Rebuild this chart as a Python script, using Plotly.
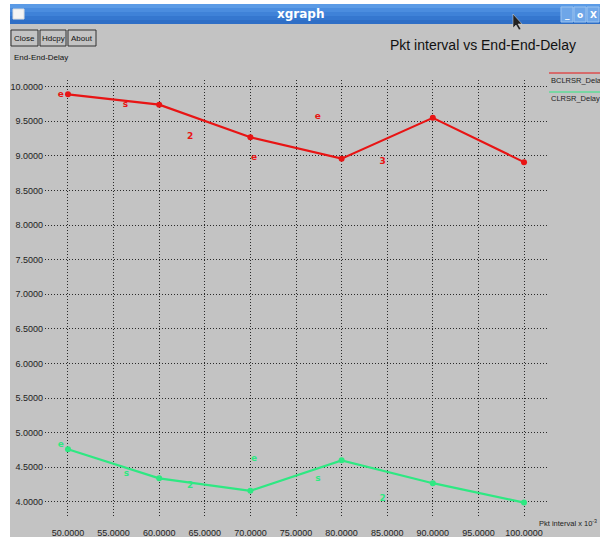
import plotly.graph_objects as go

# ---- data ----
pkt_interval = [50, 60, 70, 80, 90, 100]
bclrsr_delay = [9.89, 9.74, 9.27, 8.96, 9.55, 8.91]
clrsr_delay = [4.76, 4.34, 4.16, 4.60, 4.27, 3.99]

# stray point glyphs drawn by xgraph
red_glyph_x = [49.2, 56.3, 63.4, 70.4, 77.4, 84.5]
red_glyph_y = [9.89, 9.74, 9.28, 8.98, 9.57, 8.92]
red_glyph_txt = ["e", "s", "2", "e", "e", "3"]
green_glyph_x = [49.2, 56.4, 63.4, 70.4, 77.4, 84.5]
green_glyph_y = [4.82, 4.40, 4.23, 4.63, 4.33, 4.04]
green_glyph_txt = ["e", "s", "2", "e", "s", "2"]

x_ticks = [50, 55, 60, 65, 70, 75, 80, 85, 90, 95, 100]
y_ticks = [4.0, 4.5, 5.0, 5.5, 6.0, 6.5, 7.0, 7.5, 8.0, 8.5, 9.0, 9.5, 10.0]

W, H = 600, 537
L, R, T, B = 45, 548, 80, 518
RED = "#e81414"
GREEN = "#2ee882"
GREY = "#c3c3c3"
NARROW = "Liberation Sans Narrow, Liberation Sans"


def px(x):
    return (x - L) / (R - L)


def py(y):
    return (B - y) / (B - T)


fig = go.Figure()
fig.add_trace(go.Scatter(x=pkt_interval, y=bclrsr_delay, mode="lines+markers",
                         line=dict(color=RED, width=2.2), marker=dict(color=RED, size=6),
                         showlegend=False))
fig.add_trace(go.Scatter(x=pkt_interval, y=clrsr_delay, mode="lines+markers",
                         line=dict(color=GREEN, width=2.2), marker=dict(color=GREEN, size=6),
                         showlegend=False))
fig.add_trace(go.Scatter(x=red_glyph_x, y=red_glyph_y, mode="text", text=red_glyph_txt,
                         textfont=dict(color=RED, size=9, family="DejaVu Sans", weight="bold"),
                         showlegend=False))
fig.add_trace(go.Scatter(x=green_glyph_x, y=green_glyph_y, mode="text", text=green_glyph_txt,
                         textfont=dict(color=GREEN, size=9, family="DejaVu Sans", weight="bold"),
                         showlegend=False))

shapes = []
ann = []
# window background
shapes.append(dict(type="rect", xref="paper", yref="paper", x0=px(10), x1=px(600),
                   y0=py(537), y1=py(4), fillcolor=GREY, line=dict(width=0), layer="below"))
# title bar gradient
bar_cols = ["#5b9be6", "#4b8ddf", "#3f82d8", "#3577cf", "#2e6ec6"]
step = 20 / len(bar_cols)
for i, c in enumerate(bar_cols):
    shapes.append(dict(type="rect", xref="paper", yref="paper", x0=px(10), x1=px(600),
                       y0=py(4 + (i + 1) * step), y1=py(4 + i * step), fillcolor=c,
                       line=dict(width=0), layer="below"))
# window icon
shapes.append(dict(type="rect", xref="paper", yref="paper", x0=px(13), x1=px(24),
                   y0=py(19), y1=py(9), fillcolor="#f4f4f4", line=dict(color="#dddddd", width=1)))
# title bar buttons
for x0, glyph in [(561, "_"), (574, "o"), (587, "X")]:
    shapes.append(dict(type="rect", xref="paper", yref="paper", x0=px(x0), x1=px(x0 + 12),
                       y0=py(22), y1=py(7), fillcolor="#6ea6e8", line=dict(color="#9cc4f0", width=1)))
    ann.append(dict(x=px(x0 + 6), y=py(14.5), xref="paper", yref="paper", text="<b>" + glyph + "</b>",
                    showarrow=False, font=dict(color="white", size=9, family="DejaVu Sans"),
                    xanchor="center", yanchor="middle"))
ann.append(dict(x=px(300), y=py(14), xref="paper", yref="paper", text="<b>xgraph</b>",
                showarrow=False, font=dict(color="white", size=12, family="DejaVu Sans"),
                xanchor="center", yanchor="middle"))
# mouse cursor
shapes.append(dict(type="path", xref="paper", yref="paper",
                   path=f"M {px(513)} {py(14)} L {px(513)} {py(28)} L {px(516)} {py(25)} "
                        f"L {px(519)} {py(30)} L {px(521)} {py(29)} L {px(518)} {py(24)} "
                        f"L {px(522)} {py(24)} Z",
                   fillcolor="#222222", line=dict(color="#dddddd", width=0.5)))
# buttons
for x0, x1, lab in [(11, 38, "Close"), (40, 66, "Hdcpy"), (68, 96, "About")]:
    shapes.append(dict(type="rect", xref="paper", yref="paper", x0=px(x0), x1=px(x1),
                       y0=py(46), y1=py(30), fillcolor=GREY, line=dict(color="#333333", width=1)))
    ann.append(dict(x=px((x0 + x1) / 2), y=py(38), xref="paper", yref="paper", text=lab,
                    showarrow=False, font=dict(color="#111111", size=8, family=NARROW),
                    xanchor="center", yanchor="middle"))
# y-axis label
ann.append(dict(x=px(12), y=py(57), xref="paper", yref="paper", text="End-End-Delay",
                showarrow=False, font=dict(color="#111111", size=8, family=NARROW),
                xanchor="left", yanchor="middle"))
# title
ann.append(dict(x=px(483), y=py(45), xref="paper", yref="paper", text="Pkt interval vs End-End-Delay",
                showarrow=False, font=dict(color="#111111", size=14, family=NARROW),
                xanchor="center", yanchor="middle"))
# legend
for yl, yt, col, lab in [(73, 80, RED, "BCLRSR_Delay"), (92, 98, GREEN, "CLRSR_Delay")]:
    shapes.append(dict(type="line", xref="paper", yref="paper", x0=px(549), x1=px(600),
                       y0=py(yl), y1=py(yl), line=dict(color=col, width=1)))
    ann.append(dict(x=px(549), y=py(yt), xref="paper", yref="paper", text=lab,
                    showarrow=False, font=dict(color="#222222", size=7.5, family=NARROW),
                    xanchor="left", yanchor="middle"))
# x-axis label
ann.append(dict(x=px(537), y=py(523), xref="paper", yref="paper", text="Pkt interval x 10<sup>-3</sup>",
                showarrow=False, font=dict(color="#222222", size=7.5, family=NARROW),
                xanchor="left", yanchor="middle"))

axis_font = dict(color="#222222", size=9, family=NARROW)
grid = dict(showgrid=True, gridcolor="#2a2a2a", griddash="1px,2px", gridwidth=1,
            zeroline=False, showline=False, ticks="", tickfont=axis_font,
            tickformat=".4f", automargin=False)
fig.update_layout(
    width=W, height=H,
    margin=dict(l=L, r=W - R, t=T, b=H - B),
    paper_bgcolor="white", plot_bgcolor=GREY,
    shapes=shapes, annotations=ann,
    xaxis=dict(range=[47.48, 102.63], tickvals=x_ticks, ticklabelstandoff=8, **grid),
    yaxis=dict(range=[3.767, 10.097], tickvals=y_ticks, ticklabelstandoff=1, **grid),
)
fig.write_html("out.html")
